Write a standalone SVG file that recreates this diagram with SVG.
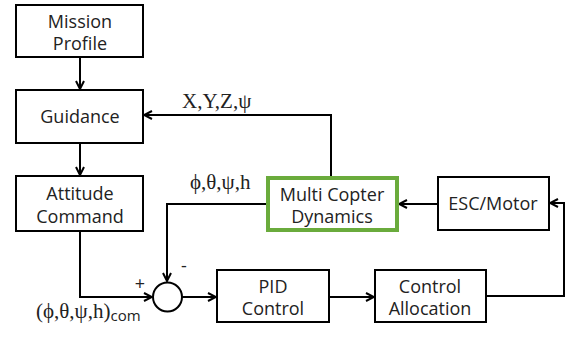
<svg xmlns="http://www.w3.org/2000/svg" width="571" height="337" viewBox="0 0 571 337">
<defs>
<style>
.box{fill:#fff;stroke:#000;stroke-width:2}
.green{fill:#fff;stroke:#6aab3c;stroke-width:4}
.t{font-family:"Open Sans","Noto Sans",sans-serif;font-size:18px;fill:#222;text-anchor:middle}
.g{font-family:"Liberation Serif","DejaVu Serif",serif;font-size:21px;fill:#222}
.ln{fill:none;stroke:#000;stroke-width:2}
</style>
<marker id="ah" viewBox="0 0 10 10" refX="9" refY="5" markerWidth="10" markerHeight="10" markerUnits="userSpaceOnUse" orient="auto">
<path d="M1,1 L9,5 L1,9" fill="none" stroke="#000" stroke-width="2"/>
</marker>
</defs>
<rect width="571" height="337" fill="#fff"/>
<g id="connectors">
<path class="ln" d="M80,57 V89" marker-end="url(#ah)"/>
<path class="ln" d="M80,143 V175" marker-end="url(#ah)"/>
<path class="ln" d="M80,231 V297 H152" marker-end="url(#ah)"/>
<path class="ln" d="M331,177 V115 H144" marker-end="url(#ah)"/>
<path class="ln" d="M267,204 H167 V281" marker-end="url(#ah)"/>
<path class="ln" d="M182,297 H216" marker-end="url(#ah)"/>
<path class="ln" d="M329,297 H374" marker-end="url(#ah)"/>
<path class="ln" d="M486,296 H564 V203 H550" marker-end="url(#ah)"/>
<path class="ln" d="M438,204 H399" marker-end="url(#ah)"/>
<text class="g" x="182" y="108">X,Y,Z,ψ</text>
<text class="g" x="190" y="189">ϕ,θ,ψ,h</text>
<text class="g" x="36" y="318">(ϕ,θ,ψ,h)<tspan font-family="Open Sans, sans-serif" font-size="15" dy="3">com</tspan></text>
<text class="t" x="140" y="290" font-size="15">+</text>
<text class="t" x="184" y="272" font-size="15">-</text>
</g>
<g id="mission"><rect class="box" x="16" y="5" width="127" height="52"/><text class="t" x="80" y="28">Mission</text><text class="t" x="80" y="50">Profile</text></g>
<g id="guidance"><rect class="box" x="16" y="90" width="127" height="53"/><text class="t" x="80" y="123">Guidance</text></g>
<g id="attitude"><rect class="box" x="16" y="176" width="127" height="55"/><text class="t" x="80" y="200">Attitude</text><text class="t" x="80" y="223">Command</text></g>
<g id="sum"><circle cx="167.5" cy="297" r="14.5" fill="#fff" stroke="#000" stroke-width="2"/></g>
<g id="pid"><rect class="box" x="217" y="270" width="112" height="52"/><text class="t" x="273" y="293">PID</text><text class="t" x="273" y="315">Control</text></g>
<g id="alloc"><rect class="box" x="375" y="270" width="111" height="52"/><text class="t" x="430" y="293">Control</text><text class="t" x="430" y="315">Allocation</text></g>
<g id="esc"><rect class="box" x="438" y="177" width="111" height="53"/><text class="t" x="493" y="210">ESC/Motor</text></g>
<g id="dynamics"><rect class="green" x="268" y="178" width="129" height="52"/><text class="t" x="332" y="201">Multi Copter</text><text class="t" x="332" y="223">Dynamics</text></g>
</svg>
